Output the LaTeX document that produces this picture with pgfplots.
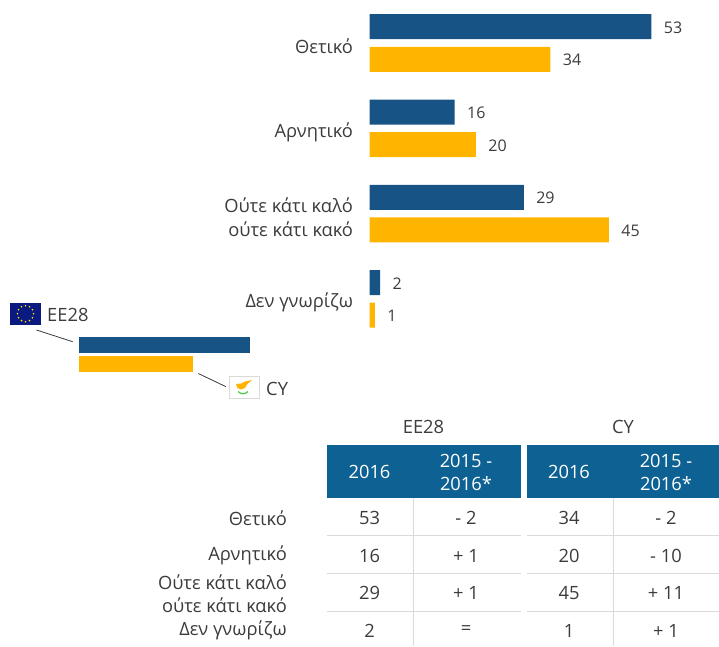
\documentclass[border=0pt]{standalone}
\usepackage{pgfplots}
\pgfplotsset{compat=1.18}
\usepackage{fontspec}
\setmainfont{Open Sans}
\definecolor{cblue}{HTML}{175384}
\definecolor{cyel}{HTML}{FFB400}
\definecolor{chead}{HTML}{0E6193}
\definecolor{ctxt}{HTML}{3C3C3C}
\definecolor{cgrid}{HTML}{DADADA}
\definecolor{cnavy}{HTML}{0A1A80}
\newcommand{\fs}{\fontsize{16}{24}\selectfont}
\newcommand{\fl}{\fontsize{18.3}{24}\selectfont}
\begin{document}
\begin{tikzpicture}[font=\fl,text=ctxt]
\path[use as bounding box] (0pt,0pt) rectangle (719pt,-646pt);
\begin{axis}[
  at={(369.5pt,-0.35pt)},anchor=north west,
  scale only axis,width=349.5pt,height=341.2pt,
  xmin=0,xmax=65.7,ymin=-0.5,ymax=3.5,y dir=reverse,
  clip=false,
  axis line style={draw=none},tick style={draw=none},
  xtick=\empty,ytick={0,1,2,3},
  yticklabels={Θετικό,Αρνητικό,{Ούτε κάτι καλό\\ούτε κάτι κακό},Δεν γνωρίζω},
  y tick label style={align=right,font=\fl,text=ctxt,inner sep=0pt,xshift=-12pt,yshift=-3.6pt},
  xbar,bar width=25pt,
  nodes near coords,
  /pgf/number format/assume math mode=true,
  every node near coord/.append style={font=\fs,text=ctxt,anchor=west,inner sep=0pt,xshift=12.3pt,yshift=-0.7pt},
]
\addplot[fill=cblue,draw=none,bar shift=16.3pt] coordinates {(53,0) (16,1) (29,2) (2,3)};
\addplot[fill=cyel,draw=none,bar shift=-16.3pt] coordinates {(34,0) (20,1) (45,2) (1,3)};
\end{axis}
\begin{scope}[x=1pt,y=-1pt]
% legend swatches
\fill[cblue] (79,337) rectangle (250,353);
\fill[cyel] (79,356) rectangle (193,372);
\draw[ctxt,line width=0.8pt] (36.5,330) -- (72.7,341.7);
\draw[ctxt,line width=0.8pt] (198.3,373.5) -- (226,386.7);
% EU flag
\fill[cnavy] (10,302.5) rectangle (41,325);
\foreach \a in {0,30,...,330}{\fill[yellow!80!orange] ({25.5+8*cos(\a)},{313.7+8*sin(\a)}) circle (0.9);}
\node[anchor=west,inner sep=0pt] at (47,314.5) {EE28};
% CY flag
\draw[cgrid,fill=white,line width=0.8pt] (229,376) rectangle (259,398.5);
\fill[cyel] (236,384) -- (241,383.5) -- (245,381.5) -- (252,380) -- (247,384.5) -- (245,388) -- (241,389.5) -- (237.5,388) -- cycle;
\draw[green!70!black!70,line width=1.2pt] (238,391.5) .. controls (241,394.5) and (245,394.5) .. (248,391.5);
\node[anchor=west,inner sep=0pt] at (266,388.5) {CY};
% table
\node at (423.5,427) {EE28};
\node at (623,427) {CY};
\fill[chead] (327,445) rectangle (521,498);
\fill[chead] (527,445) rectangle (719,498);
\foreach \x in {369.5,569}{\node[text=white] at (\x,472) {2016};}
\foreach \x in {466,666}{
  \node[text=white] at (\x,461) {2015 -};
  \node[text=white] at (\x,484) {2016*};}
\draw[cgrid,line width=1pt] (413,498) -- (413,646) (613,498) -- (613,646);
\foreach \y in {535.5,573,611}{\draw[cgrid,line width=1pt] (327,\y) -- (521,\y) (527,\y) -- (719,\y);}
\foreach \y/\a/\b/\c/\d in {518/53/- 2/34/- 2,556/16/+ 1/20/- 10,593/29/+ 1/45/+ 11,630.5/2/=/1/+ 1}{
  \node at (369.5,\y) {\a};
  \node at (466,\y) {\b};
  \node at (569,\y) {\c};
  \node at (666,\y) {\d};
}
\node[anchor=east,inner sep=0pt] at (287,518) {Θετικό};
\node[anchor=east,inner sep=0pt] at (287,555) {Αρνητικό};
\node[anchor=east,inner sep=0pt,align=right] at (287,594) {Ούτε κάτι καλό\\[-1pt]ούτε κάτι κακό};
\node[anchor=east,inner sep=0pt] at (287,630) {Δεν γνωρίζω};
\end{scope}
\end{tikzpicture}
\end{document}
